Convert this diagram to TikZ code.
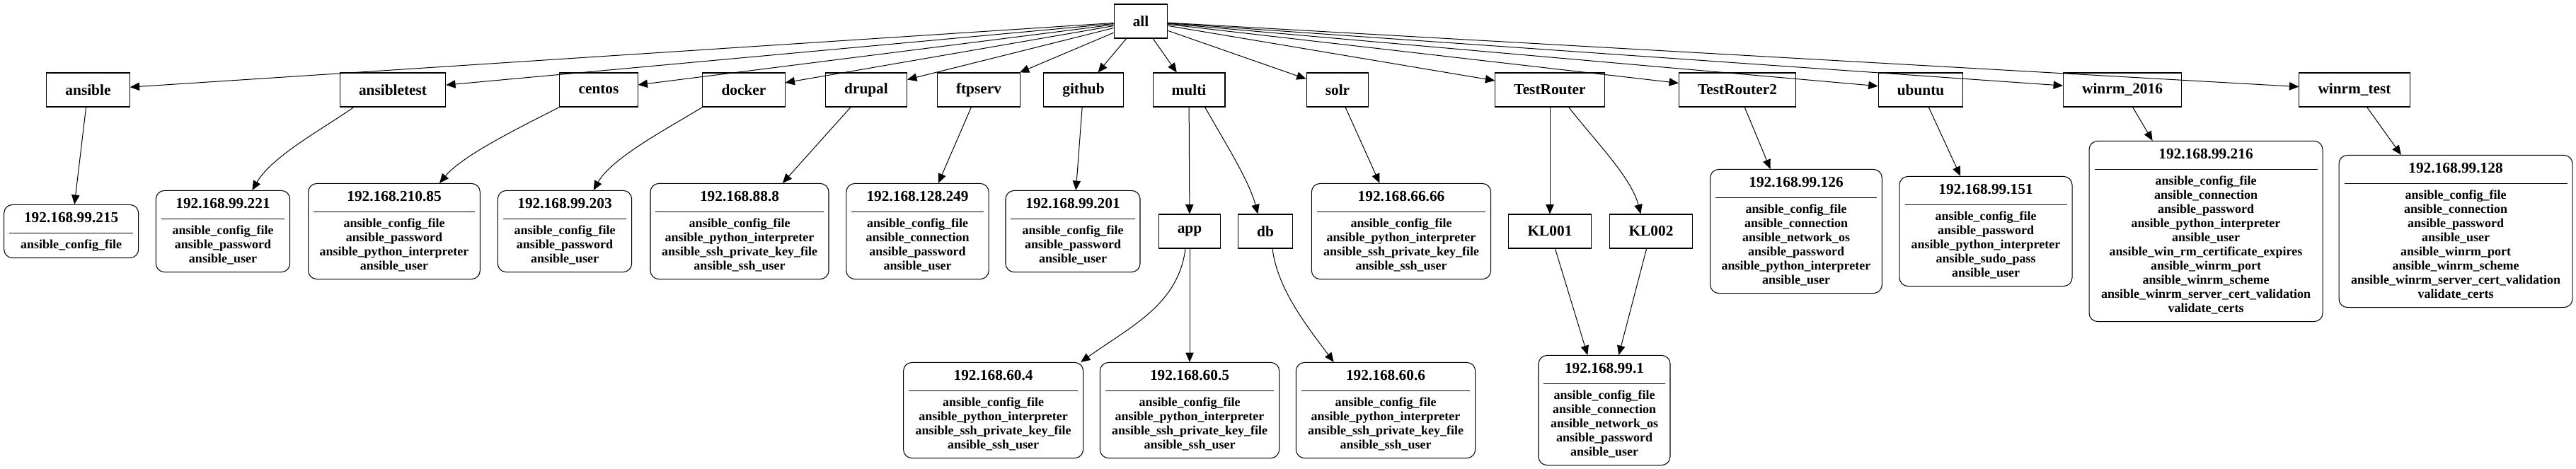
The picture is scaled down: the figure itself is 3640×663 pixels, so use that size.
\documentclass[tikz,border=0pt]{standalone}
\usepackage{fontspec}
\setmainfont{Liberation Serif}
\usetikzlibrary{shapes.multipart,arrows.meta}

\newcommand{\groupfont}{\fontsize{16}{19}\selectfont\bfseries}
\newcommand{\headfont}{\fontsize{16}{18.75}\selectfont\bfseries}
\newcommand{\varfont}{\fontsize{13.5}{15}\selectfont\bfseries}
% header part and variable part of a host record
\newcommand{\hostvars}[2]{{\headfont\begin{tabular}{@{}c@{}}#1\end{tabular}}\nodepart{two}{\varfont\begin{tabular}{@{}c@{}}#2\end{tabular}}}

\begin{document}
\begin{tikzpicture}[
x=0.75pt, y=-0.75pt,
groupnode/.style =
  {rectangle, draw, line width=0.8pt,
   minimum height=36pt, inner xsep=20pt,
   font=\groupfont},
hostnode/.style =
  {rectangle split, rectangle split parts=2,
   rectangle split draw splits=false,
   draw, line width=0.8pt, rounded corners=9pt,
   inner ysep=5.25pt, inner xsep=6pt},
hostrule/.style = {line width=0.9pt},
edge/.style = {line width=0.75pt, -{Triangle[length=10pt,width=8.5pt]}}
]
\useasboundingbox (0,0) rectangle (3640,663);
%Groups
\node[groupnode] (all) at (1612,30) {all};
\node[groupnode] (ansible) at (124.5,127) {ansible};
\node[groupnode] (ansibletest) at (555,127) {ansibletest};
\node[groupnode] (centos) at (846,127) {centos};
\node[groupnode] (docker) at (1051,127) {docker};
\node[groupnode] (drupal) at (1224,127) {drupal};
\node[groupnode] (ftpserv) at (1383,127) {ftpserv};
\node[groupnode] (github) at (1531,127) {github};
\node[groupnode] (multi) at (1680,127) {multi};
\node[groupnode] (solr) at (1890,127) {solr};
\node[groupnode] (testrouter) at (2190,127) {TestRouter};
\node[groupnode] (testrouter2) at (2455,127) {TestRouter2};
\node[groupnode] (ubuntu) at (2714,127) {ubuntu};
\node[groupnode] (winrm2016) at (2999,127) {winrm\_2016};
\node[groupnode] (winrmtest) at (3327,127) {winrm\_test};
\node[groupnode] (app) at (1681,327) {app};
\node[groupnode] (db) at (1788,327) {db};
\node[groupnode] (kl001) at (2190,327) {KL001};
\node[groupnode] (kl002) at (2333,327) {KL002};
%Hosts
\node[hostnode, minimum width=142.5pt] (h215) at (100.7,327)
  {\hostvars{192.168.99.215}{ansible\_config\_file}};
\node[hostnode, minimum width=142pt] (h221) at (315,327)
  {\hostvars{192.168.99.221}{ansible\_config\_file\\ansible\_password\\ansible\_user}};
\node[hostnode, minimum width=182pt] (h21085) at (557,327)
  {\hostvars{192.168.210.85}{ansible\_config\_file\\ansible\_password\\ansible\_python\_interpreter\\ansible\_user}};
\node[hostnode, minimum width=142pt] (h203) at (798,327)
  {\hostvars{192.168.99.203}{ansible\_config\_file\\ansible\_password\\ansible\_user}};
\node[hostnode, minimum width=189pt] (h888) at (1045,327)
  {\hostvars{192.168.88.8}{ansible\_config\_file\\ansible\_python\_interpreter\\ansible\_ssh\_private\_key\_file\\ansible\_ssh\_user}};
\node[hostnode, minimum width=151pt] (h128249) at (1296.5,327)
  {\hostvars{192.168.128.249}{ansible\_config\_file\\ansible\_connection\\ansible\_password\\ansible\_user}};
\node[hostnode, minimum width=142.5pt] (h201) at (1516,327)
  {\hostvars{192.168.99.201}{ansible\_config\_file\\ansible\_password\\ansible\_user}};
\node[hostnode, minimum width=190pt] (h6666) at (1980,327)
  {\hostvars{192.168.66.66}{ansible\_config\_file\\ansible\_python\_interpreter\\ansible\_ssh\_private\_key\_file\\ansible\_ssh\_user}};
\node[hostnode, minimum width=182pt] (h126) at (2538,327)
  {\hostvars{192.168.99.126}{ansible\_config\_file\\ansible\_connection\\ansible\_network\_os\\ansible\_password\\ansible\_python\_interpreter\\ansible\_user}};
\node[hostnode, minimum width=183pt] (h151) at (2806,327)
  {\hostvars{192.168.99.151}{ansible\_config\_file\\ansible\_password\\ansible\_python\_interpreter\\ansible\_sudo\_pass\\ansible\_user}};
\node[hostnode, minimum width=247.5pt] (h216) at (3117,327)
  {\hostvars{192.168.99.216}{ansible\_config\_file\\ansible\_connection\\ansible\_password\\ansible\_python\_interpreter\\ansible\_user\\ansible\_win\_rm\_certificate\_expires\\ansible\_winrm\_port\\ansible\_winrm\_scheme\\ansible\_winrm\_server\_cert\_validation\\validate\_certs}};
\node[hostnode, minimum width=247.5pt] (h128) at (3470,327)
  {\hostvars{192.168.99.128}{ansible\_config\_file\\ansible\_connection\\ansible\_password\\ansible\_user\\ansible\_winrm\_port\\ansible\_winrm\_scheme\\ansible\_winrm\_server\_cert\_validation\\validate\_certs}};
\node[hostnode, minimum width=190.5pt] (h604) at (1403.6,580)
  {\hostvars{192.168.60.4}{ansible\_config\_file\\ansible\_python\_interpreter\\ansible\_ssh\_private\_key\_file\\ansible\_ssh\_user}};
\node[hostnode, minimum width=190pt] (h605) at (1681,580)
  {\hostvars{192.168.60.5}{ansible\_config\_file\\ansible\_python\_interpreter\\ansible\_ssh\_private\_key\_file\\ansible\_ssh\_user}};
\node[hostnode, minimum width=190pt] (h606) at (1958,580)
  {\hostvars{192.168.60.6}{ansible\_config\_file\\ansible\_python\_interpreter\\ansible\_ssh\_private\_key\_file\\ansible\_ssh\_user}};
\node[hostnode, minimum width=139.5pt] (h991) at (2267,580)
  {\hostvars{192.168.99.1}{ansible\_config\_file\\ansible\_connection\\ansible\_network\_os\\ansible\_password\\ansible\_user}};
\foreach \h in {h215,h221,h21085,h203,h888,h128249,h201,h6666,h126,h151,h216,h128,h604,h605,h606,h991}
  \draw[hostrule] ([xshift=6pt]\h.text split west) -- ([xshift=-6pt]\h.text split east);
%Edges
\foreach \g in {ansible,ansibletest,centos,docker,drupal,ftpserv,github,multi,solr,testrouter,testrouter2,ubuntu,winrm2016,winrmtest}
  \draw[edge] (all) -- (\g);
\foreach \a/\b in {ansible/h215,drupal/h888,ftpserv/h128249,github/h201,multi/app,solr/h6666,testrouter/kl001,testrouter2/h126,ubuntu/h151,winrm2016/h216,winrmtest/h128,app/h605,kl001/h991,kl002/h991}
  \draw[edge] (\a) -- (\b);
\draw[edge] ([xshift=15pt]ansibletest.south west) .. controls (460,180) and (385,220) .. ([xshift=31pt]h221.north);
\draw[edge] (centos.south west) .. controls (745,175) and (655,218) .. ([xshift=48pt]h21085.north);
\draw[edge] (docker.south west) .. controls (950,178) and (865,222) .. ([xshift=30.5pt]h203.north);
\draw[edge] ([xshift=17pt]multi.south) .. controls (1730,200) and (1765,255) .. ([xshift=-8pt]db.north);
\draw[edge] ([xshift=20pt]testrouter.south) .. controls (2250,195) and (2305,250) .. ([xshift=-11pt]kl002.north);
\draw[edge] ([xshift=-4.5pt]app.south) .. controls (1665,430) and (1600,460) .. ([xshift=-3pt]h604.north east);
\draw[edge] ([xshift=7.5pt]db.south) .. controls (1805,410) and (1850,465) .. ([xshift=-55pt]h606.north);
\end{tikzpicture}
\end{document}
